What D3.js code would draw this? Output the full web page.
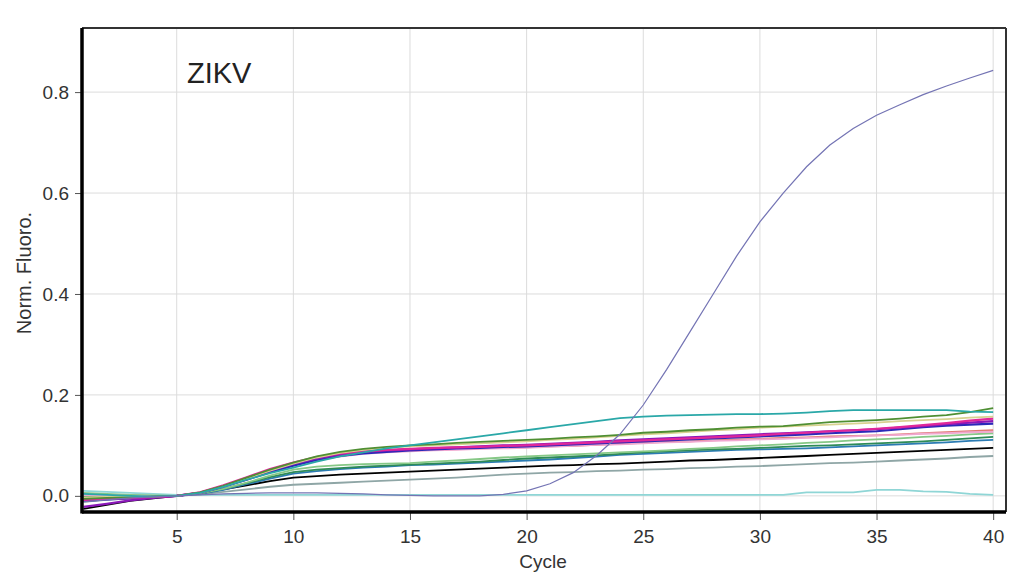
<!DOCTYPE html>
<html>
<head>
<meta charset="utf-8">
<script src="https://cdn.jsdelivr.net/npm/d3@7"></script>
<style>
  body { margin: 0; background: #fff; }
  svg { display: block; font-family: Arial, "Liberation Sans", sans-serif; }
  .tick text { fill: #333; }
</style>
</head>
<body>
<div id="chart"></div>
<script>
// cycle numbers 1..40
var cycles = d3.range(1, 41);
var xTicks = [5, 10, 15, 20, 25, 30, 35, 40];
var yTicks = [0.0, 0.2, 0.4, 0.6, 0.8];

// norm. fluoro. values per cycle
var lightCyan = [0.010,0.008,0.006,0.004,0.002,0.002,0.002,0.002,0.002,0.002,0.002,0.002,0.002,0.002,0.002,0.002,0.002,0.002,0.002,0.002,0.002,0.002,0.002,0.002,0.002,0.002,0.002,0.002,0.002,0.002,0.002,0.007,0.007,0.007,0.012,0.012,0.009,0.008,0.004,0.002];
var gray = [-0.012,-0.008,-0.005,-0.002,0.000,0.003,0.008,0.013,0.018,0.022,0.024,0.026,0.028,0.030,0.032,0.034,0.036,0.039,0.042,0.044,0.046,0.047,0.049,0.050,0.052,0.053,0.055,0.056,0.058,0.059,0.061,0.063,0.065,0.066,0.068,0.070,0.072,0.074,0.077,0.079];
var black = [-0.026,-0.018,-0.010,-0.005,0.000,0.005,0.013,0.021,0.029,0.036,0.039,0.042,0.044,0.046,0.048,0.050,0.052,0.054,0.056,0.058,0.060,0.061,0.063,0.064,0.066,0.068,0.070,0.071,0.073,0.075,0.077,0.079,0.081,0.083,0.085,0.087,0.089,0.091,0.093,0.095];
var steelBlue = [0.003,0.002,0.001,0.000,0.000,0.004,0.012,0.023,0.034,0.044,0.049,0.053,0.056,0.058,0.061,0.062,0.064,0.066,0.068,0.070,0.072,0.075,0.078,0.081,0.083,0.085,0.087,0.089,0.091,0.092,0.093,0.094,0.096,0.098,0.100,0.102,0.104,0.106,0.109,0.111];
var seaGreen = [-0.002,-0.001,-0.001,0.000,0.000,0.005,0.014,0.025,0.037,0.047,0.052,0.055,0.058,0.060,0.062,0.064,0.066,0.068,0.071,0.074,0.076,0.078,0.080,0.083,0.086,0.088,0.090,0.092,0.093,0.095,0.097,0.099,0.100,0.102,0.104,0.106,0.108,0.111,0.114,0.117];
var lightGreen = [0.006,0.004,0.002,0.001,0.000,0.005,0.014,0.026,0.040,0.052,0.058,0.061,0.063,0.064,0.065,0.068,0.070,0.073,0.076,0.078,0.080,0.082,0.084,0.086,0.088,0.090,0.093,0.095,0.098,0.100,0.102,0.105,0.107,0.110,0.112,0.114,0.117,0.119,0.122,0.124];
var salmon = [-0.004,-0.003,-0.002,-0.001,0.000,0.006,0.019,0.034,0.049,0.062,0.072,0.080,0.085,0.088,0.090,0.091,0.093,0.094,0.095,0.096,0.098,0.099,0.101,0.103,0.105,0.107,0.108,0.110,0.112,0.113,0.115,0.116,0.118,0.119,0.120,0.122,0.124,0.126,0.128,0.130];
var lightPink = [0.002,0.001,0.000,0.000,0.000,0.006,0.018,0.032,0.047,0.060,0.070,0.078,0.083,0.086,0.088,0.090,0.091,0.093,0.094,0.095,0.097,0.099,0.101,0.102,0.104,0.106,0.107,0.109,0.110,0.112,0.113,0.115,0.116,0.118,0.120,0.121,0.123,0.124,0.126,0.127];
var darkBlue = [-0.010,-0.007,-0.005,-0.002,0.000,0.006,0.018,0.032,0.047,0.060,0.071,0.079,0.084,0.087,0.090,0.092,0.094,0.095,0.097,0.098,0.100,0.102,0.104,0.106,0.108,0.110,0.112,0.114,0.116,0.118,0.120,0.122,0.124,0.126,0.128,0.132,0.136,0.139,0.141,0.143];
var purple = [-0.022,-0.016,-0.009,-0.004,0.000,0.006,0.019,0.034,0.050,0.063,0.074,0.082,0.087,0.090,0.092,0.094,0.096,0.098,0.100,0.101,0.103,0.105,0.107,0.110,0.112,0.114,0.116,0.118,0.120,0.122,0.124,0.126,0.128,0.130,0.132,0.135,0.138,0.142,0.145,0.148];
var magenta = [-0.008,-0.006,-0.004,-0.002,0.000,0.007,0.021,0.037,0.053,0.066,0.077,0.084,0.088,0.091,0.093,0.095,0.096,0.097,0.099,0.100,0.102,0.104,0.106,0.108,0.110,0.112,0.114,0.116,0.118,0.120,0.123,0.125,0.128,0.130,0.133,0.136,0.140,0.144,0.149,0.153];
var khaki = [-0.003,-0.002,-0.002,-0.001,0.000,0.006,0.019,0.034,0.050,0.064,0.076,0.085,0.091,0.095,0.098,0.100,0.102,0.104,0.106,0.108,0.111,0.113,0.116,0.119,0.122,0.124,0.127,0.130,0.132,0.135,0.137,0.139,0.141,0.143,0.145,0.148,0.150,0.152,0.155,0.157];
var olive = [-0.006,-0.004,-0.003,-0.001,0.000,0.007,0.020,0.036,0.052,0.066,0.078,0.087,0.093,0.097,0.100,0.102,0.105,0.107,0.109,0.111,0.113,0.116,0.118,0.121,0.125,0.127,0.130,0.132,0.135,0.137,0.138,0.142,0.146,0.148,0.150,0.153,0.157,0.160,0.166,0.174];
var teal = [0.004,0.002,0.000,-0.001,0.000,0.006,0.018,0.032,0.045,0.056,0.068,0.078,0.086,0.094,0.100,0.106,0.112,0.118,0.124,0.130,0.136,0.142,0.148,0.154,0.157,0.159,0.160,0.161,0.162,0.162,0.163,0.165,0.168,0.170,0.170,0.170,0.170,0.170,0.167,0.166];
var zikv = [-0.012,-0.008,-0.004,-0.002,0.000,0.002,0.004,0.005,0.006,0.006,0.006,0.005,0.004,0.002,0.001,0.000,0.000,0.000,0.003,0.010,0.024,0.046,0.080,0.122,0.180,0.250,0.325,0.400,0.475,0.543,0.600,0.652,0.695,0.728,0.754,0.775,0.795,0.812,0.828,0.843];

var series = [
  { values: lightCyan,  color: '#8fd6d6', w: 1.8 },
  { values: gray,       color: '#8fa6a6', w: 1.8 },
  { values: black,      color: '#000000', w: 1.8 },
  { values: steelBlue,  color: '#2b7bb3', w: 1.8 },
  { values: seaGreen,   color: '#2e8b57', w: 1.8 },
  { values: lightGreen, color: '#86c886', w: 1.8 },
  { values: salmon,     color: '#e07a70', w: 1.8 },
  { values: lightPink,  color: '#f0a8d0', w: 1.8 },
  { values: darkBlue,   color: '#2a2ab8', w: 2.2 },
  { values: purple,     color: '#8a18b8', w: 2.2 },
  { values: magenta,    color: '#e0289a', w: 2.2 },
  { values: khaki,      color: '#d8d290', w: 1.8 },
  { values: olive,      color: '#4f8f33', w: 1.8 },
  { values: teal,       color: '#2aa8a8', w: 1.8 },
  { values: zikv,       color: '#7474b4', w: 1.2 }
];

var W = 1011, H = 574;
var margin = { top: 28, right: 5, bottom: 62, left: 82 };
var width = W - margin.left - margin.right;
var height = H - margin.top - margin.bottom;

var x = d3.scaleLinear().domain([0.94, 40.55]).range([0, width]);
var y = d3.scaleLinear().domain([-0.032, 0.927]).range([height, 0]);

var svg = d3.select('#chart').append('svg')
  .attr('width', W)
  .attr('height', H);

var g = svg.append('g')
  .attr('transform', 'translate(' + margin.left + ',' + margin.top + ')');

// grid
g.append('g').selectAll('line').data(xTicks).enter().append('line')
  .attr('x1', function(d) { return x(d); }).attr('x2', function(d) { return x(d); })
  .attr('y1', 0).attr('y2', height)
  .attr('stroke', '#dcdcdc').attr('stroke-width', 1);
g.append('g').selectAll('line').data(yTicks).enter().append('line')
  .attr('x1', 0).attr('x2', width)
  .attr('y1', function(d) { return y(d); }).attr('y2', function(d) { return y(d); })
  .attr('stroke', '#dcdcdc').attr('stroke-width', 1);

svg.append('clipPath').attr('id', 'clip')
  .append('rect').attr('x', 0).attr('y', 0).attr('width', width).attr('height', height);

var line = d3.line()
  .x(function(d, i) { return x(cycles[i]); })
  .y(function(d) { return y(d); });

g.append('g').attr('clip-path', 'url(#clip)')
  .selectAll('path').data(series).enter().append('path')
  .attr('d', function(s) { return line(s.values); })
  .attr('fill', 'none')
  .attr('stroke', function(s) { return s.color; })
  .attr('stroke-width', function(s) { return s.w; });

// axes
var xAxis = d3.axisBottom(x).tickValues(xTicks).tickSize(8).tickSizeOuter(0).tickPadding(10);
var yAxis = d3.axisLeft(y).tickValues(yTicks).tickFormat(d3.format('.1f')).tickSize(7).tickSizeOuter(0).tickPadding(6);

var gx = g.append('g').attr('transform', 'translate(0,' + height + ')').call(xAxis);
var gy = g.append('g').call(yAxis);
[gx, gy].forEach(function(a) {
  a.select('.domain').remove();
  a.selectAll('.tick line').attr('stroke', '#555');
  a.selectAll('.tick text').attr('font-size', 19).attr('font-family', 'Arial, "Liberation Sans", sans-serif');
});

// frame: thick left and bottom, thin top and right
g.append('line').attr('x1', width).attr('x2', width).attr('y1', 0).attr('y2', height)
  .attr('stroke', '#333').attr('stroke-width', 2);
g.append('line').attr('x1', 0).attr('x2', width).attr('y1', 0).attr('y2', 0)
  .attr('stroke', '#333').attr('stroke-width', 2);
g.append('line').attr('x1', 0).attr('x2', 0).attr('y1', 0).attr('y2', height + 1.5)
  .attr('stroke', '#000').attr('stroke-width', 3.5);
g.append('line').attr('x1', 0).attr('x2', width).attr('y1', height).attr('y2', height)
  .attr('stroke', '#000').attr('stroke-width', 3.5);

// labels
svg.append('text')
  .attr('x', 543).attr('y', 568)
  .attr('text-anchor', 'middle')
  .attr('font-size', 19).attr('fill', '#333')
  .text('Cycle');

svg.append('text')
  .attr('transform', 'translate(31,273) rotate(-90)')
  .attr('text-anchor', 'middle')
  .attr('font-size', 20).attr('fill', '#333')
  .text('Norm. Fluoro.');

g.append('text')
  .attr('x', 187 - margin.left).attr('y', 83 - margin.top)
  .attr('font-size', 29).attr('fill', '#222')
  .text('ZIKV');
</script>
</body>
</html>
